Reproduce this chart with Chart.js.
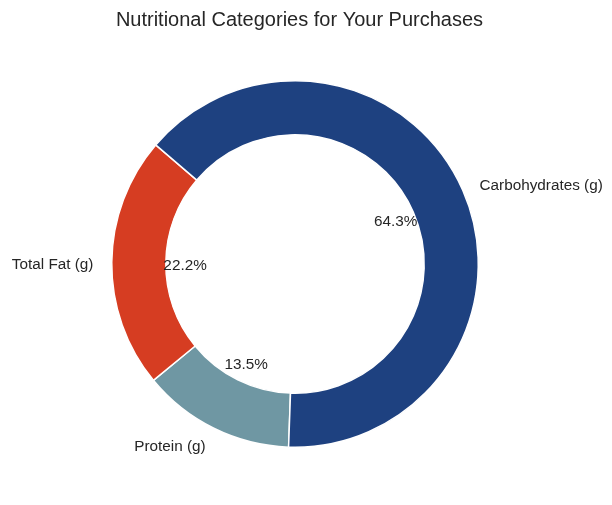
<!DOCTYPE html>
<html>
<head>
<meta charset="utf-8">
<script src="https://cdn.jsdelivr.net/npm/chart.js@4/dist/chart.umd.min.js"></script>
<style>
  html, body { margin: 0; padding: 0; background: #ffffff; }
  #wrap { width: 612px; height: 505px; position: relative; }
</style>
</head>
<body>
<div id="wrap"><canvas id="c" width="612" height="505"></canvas></div>
<script>
// Data (drawn clockwise from the bottom, so listed in reverse of the counter-clockwise original)
const categories = ["Protein (g)", "Total Fat (g)", "Carbohydrates (g)"];
const percentages = [13.5, 22.2, 64.3];
const sliceColors = ["#6f97a3", "#d63d22", "#1e4180"];
const chartTitle = "Nutritional Categories for Your Purchases";

const FONT = "'Liberation Sans', Arial, sans-serif";
const TEXT = "#262626";

const textPlugin = {
  id: "mplText",
  afterDatasetsDraw(chart) {
    const ctx = chart.ctx;
    const meta = chart.getDatasetMeta(0);
    ctx.save();
    ctx.fillStyle = TEXT;
    // title
    ctx.font = "20px " + FONT;
    ctx.textAlign = "center";
    ctx.textBaseline = "alphabetic";
    ctx.fillText(chartTitle, 299.5, 26);
    ctx.font = "15.3px " + FONT;
    ctx.textBaseline = "middle";
    const dy = 2.5;
    meta.data.forEach((arc, i) => {
      const p = arc.getProps(["x", "y", "startAngle", "endAngle", "outerRadius"], true);
      const mid = (p.startAngle + p.endAngle) / 2;
      const cx = Math.cos(mid), cy = Math.sin(mid);
      const R = p.outerRadius;
      // percentage label at 0.6 R
      ctx.textAlign = "center";
      ctx.fillText(percentages[i].toFixed(1) + "%", p.x + cx * R * 0.6, p.y + cy * R * 0.6 + dy);
      // category label at 1.1 R
      ctx.textAlign = cx >= 0 ? "left" : "right";
      ctx.fillText(categories[i], p.x + cx * R * 1.1, p.y + cy * R * 1.1 + dy);
    });
    ctx.restore();
  }
};

new Chart(document.getElementById("c"), {
  type: "doughnut",
  data: {
    labels: categories,
    datasets: [{
      data: percentages,
      backgroundColor: sliceColors,
      borderColor: "#ffffff",
      borderWidth: 1.5
    }]
  },
  options: {
    responsive: false,
    animation: false,
    rotation: 182,
    cutout: "70.5%",
    layout: { padding: { left: 111, right: 133, top: 80, bottom: 57 } },
    plugins: {
      legend: { display: false },
      tooltip: { enabled: false },
      title: { display: false }
    }
  },
  plugins: [textPlugin]
});
</script>
</body>
</html>
